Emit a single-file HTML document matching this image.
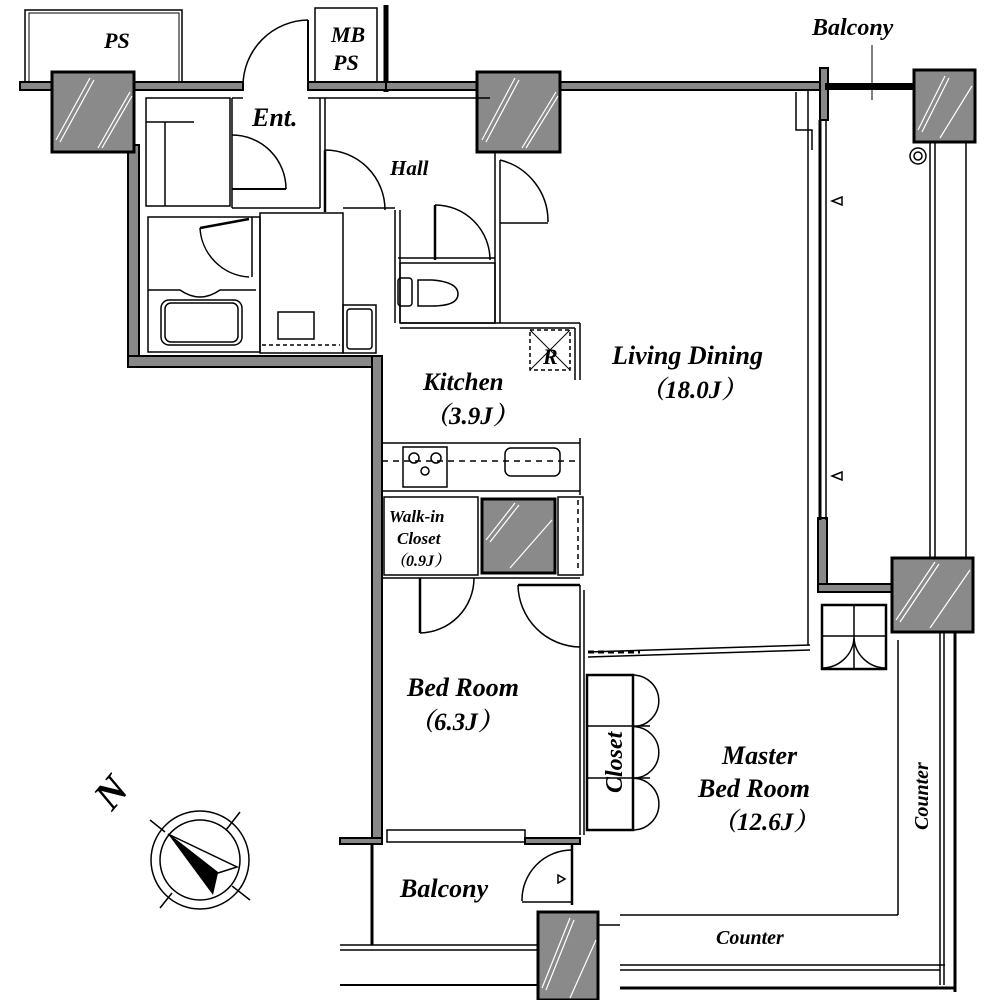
<!DOCTYPE html>
<html><head><style>
html,body{margin:0;padding:0;background:#fff;}
svg{display:block}
text{font-family:"Liberation Serif","Noto Serif CJK SC",serif;font-weight:bold;font-style:italic;fill:#000}
</style></head><body>
<svg width="1000" height="1000" viewBox="0 0 1000 1000" xmlns="http://www.w3.org/2000/svg">
<g fill="none" stroke="#000" stroke-width="1.5">
<!-- PS boxes -->
<rect x="25" y="10" width="157" height="73"/>
<rect x="29" y="13" width="150" height="70" stroke-width="1"/>
<rect x="315" y="8" width="62" height="75"/>
<line x1="386" y1="5" x2="386" y2="92" stroke-width="5"/>
<!-- entry door arc -->
<path d="M308 20 A66 66 0 0 0 243 86" />
<line x1="308" y1="20" x2="308" y2="86" stroke-width="2"/>
</g>
<!-- top walls -->
<g fill="#888" stroke="#000" stroke-width="2">
<rect x="20" y="82" width="223" height="8"/>
<rect x="308" y="82" width="78" height="8"/>
<rect x="386" y="82" width="434" height="8"/>
<rect x="820" y="68" width="8" height="52"/>
<rect x="826" y="84" width="92" height="5" fill="#000"/>
<rect x="128" y="145" width="11" height="222"/>
<rect x="128" y="356" width="254" height="11"/>
<rect x="372" y="356" width="10" height="484"/>
<rect x="818" y="518" width="9" height="72"/>
<rect x="818" y="584" width="78" height="8"/>
<rect x="340" y="838" width="42" height="6"/>
<rect x="525" y="838" width="55" height="6"/>
</g>
<!-- columns -->
<g stroke="#000" stroke-width="3" fill="#8a8a8a">
<rect x="52" y="72" width="82" height="80"/>
<rect x="477" y="72" width="83" height="80"/>
<rect x="914" y="70" width="61" height="72"/>
<rect x="892" y="558" width="81" height="74"/>
<rect x="538" y="912" width="60" height="88"/>
<rect x="482" y="499" width="73" height="74"/>
</g>
<g stroke="#fff" stroke-width="1.2">
<line x1="56" y1="140" x2="90" y2="78"/><line x1="60" y1="142" x2="94" y2="80"/>
<line x1="98" y1="148" x2="130" y2="92"/><line x1="102" y1="148" x2="132" y2="96"/>
<line x1="482" y1="140" x2="515" y2="78"/><line x1="486" y1="142" x2="519" y2="80"/>
<line x1="522" y1="148" x2="556" y2="92"/><line x1="526" y1="148" x2="558" y2="96"/>
<line x1="918" y1="130" x2="945" y2="76"/><line x1="922" y1="132" x2="949" y2="78"/>
<line x1="940" y1="138" x2="972" y2="86"/>
<line x1="896" y1="620" x2="935" y2="562"/><line x1="900" y1="622" x2="939" y2="564"/>
<line x1="930" y1="628" x2="970" y2="570"/>
<line x1="542" y1="988" x2="570" y2="918"/><line x1="546" y1="990" x2="574" y2="920"/>
<line x1="570" y1="998" x2="596" y2="940"/>
<line x1="486" y1="540" x2="515" y2="503"/><line x1="490" y1="542" x2="519" y2="505"/>
<line x1="510" y1="568" x2="552" y2="520"/>
</g>
<g fill="none" stroke="#000" stroke-width="1.5">
<rect x="146" y="98" width="84" height="108"/>
<line x1="146" y1="122" x2="194" y2="122"/><line x1="165" y1="122" x2="165" y2="206"/>
<line x1="232" y1="98" x2="232" y2="208"/>
<line x1="232" y1="208" x2="320" y2="208"/>
<line x1="320" y1="98" x2="320" y2="208"/>
<line x1="325" y1="98" x2="325" y2="208"/>
<line x1="308" y1="98" x2="490" y2="98"/>
<line x1="232" y1="98" x2="243" y2="98"/>
<path d="M232 135 A54 54 0 0 1 286 189"/><line x1="232" y1="189" x2="286" y2="189" stroke-width="2"/>
<rect x="148" y="217" width="112" height="135"/>
<rect x="161" y="300" width="81" height="45" rx="8"/>
<rect x="165" y="303" width="73" height="39" rx="6"/>
<path d="M148 290 L180 290 Q190 297 200 297 Q210 297 220 290 L256 290"/>
<path d="M200 228 A52 52 0 0 0 249 277"/><line x1="200" y1="228" x2="249" y2="219" stroke-width="2.5"/>
<line x1="252" y1="217" x2="252" y2="277"/>
<rect x="260" y="213" width="83" height="140"/>
<rect x="278" y="312" width="36" height="27"/>
<line x1="262" y1="345" x2="340" y2="345" stroke-dasharray="4 3"/>
<rect x="343" y="305" width="33" height="48"/><rect x="347" y="309" width="25" height="40" rx="3"/>
<line x1="343" y1="208" x2="395" y2="208"/>
<path d="M325 150 A60 60 0 0 1 385 210"/><line x1="325" y1="150" x2="325" y2="212" stroke-width="2.5"/>
<line x1="395" y1="210" x2="395" y2="323"/><line x1="400" y1="210" x2="400" y2="323"/>
<line x1="398" y1="258" x2="495" y2="258"/>
<rect x="400" y="263" width="95" height="60"/>
<path d="M418 280 L432 280 Q458 282 458 294 Q458 306 432 306 L418 306 Z"/>
<rect x="398" y="278" width="14" height="28" rx="3"/>
<path d="M435 205 A55 55 0 0 1 490 260"/><line x1="435" y1="205" x2="435" y2="260" stroke-width="2.5"/>
<line x1="495" y1="152" x2="495" y2="323"/><line x1="500" y1="160" x2="500" y2="323"/>
<path d="M500 160 A63 63 0 0 1 548 222"/><line x1="500" y1="223" x2="548" y2="223"/>
<line x1="400" y1="323" x2="580" y2="323"/><line x1="400" y1="328" x2="575" y2="328"/>
<line x1="575" y1="328" x2="575" y2="380"/><line x1="580" y1="323" x2="580" y2="380"/>
<rect x="530" y="330" width="40" height="40" stroke-dasharray="4 3"/>
<line x1="530" y1="330" x2="570" y2="370" stroke-width="1"/><line x1="570" y1="330" x2="530" y2="370" stroke-width="1"/>
<line x1="382" y1="443" x2="580" y2="443"/><line x1="382" y1="491" x2="580" y2="491"/>
<line x1="580" y1="438" x2="580" y2="495"/>
<line x1="382" y1="461" x2="578" y2="461" stroke-dasharray="6 5"/>
<rect x="403" y="447" width="44" height="40"/>
<circle cx="414" cy="458" r="5"/><circle cx="436" cy="458" r="5"/><circle cx="425" cy="471" r="4"/>
<rect x="505" y="448" width="55" height="28" rx="6"/>
<rect x="384" y="497" width="94" height="78"/>
<rect x="558" y="497" width="25" height="78"/>
<line x1="578" y1="500" x2="578" y2="572" stroke-dasharray="5 4"/>
<line x1="382" y1="578" x2="580" y2="578"/>
<path d="M474 578 A55 55 0 0 1 420 633"/><line x1="420" y1="578" x2="420" y2="633" stroke-width="2.5"/>
<path d="M518 585 A63 63 0 0 0 580 647"/><line x1="518" y1="585" x2="580" y2="585" stroke-width="2.5"/>
<line x1="580" y1="585" x2="580" y2="835"/><line x1="584" y1="590" x2="584" y2="835"/>
<line x1="588" y1="652" x2="810" y2="645"/><line x1="588" y1="657" x2="810" y2="650"/>
<line x1="588" y1="652" x2="640" y2="652" stroke-width="3" stroke-dasharray="6 4"/>
<line x1="808" y1="90" x2="808" y2="645"/><line x1="820" y1="120" x2="820" y2="520" stroke-width="3"/>
<line x1="826" y1="120" x2="826" y2="520"/>
<path d="M796 92 L796 130 L812 130 L812 150"/>
<rect x="587" y="675" width="46" height="155" stroke-width="2.5"/>
<line x1="587" y1="726" x2="650" y2="726"/><line x1="587" y1="778" x2="650" y2="778"/>
<path d="M633 675 A25.8 25.8 0 0 1 633 726.6 A25.8 25.8 0 0 1 633 778.2 A25.8 25.8 0 0 1 633 830"/>
<rect x="822" y="605" width="64" height="64" stroke-width="2.5"/>
<line x1="854" y1="605" x2="854" y2="668"/>
<line x1="822" y1="636" x2="886" y2="636"/>
<path d="M822 668 A32 32 0 0 0 854 638 A32 32 0 0 0 886 668"/>
<line x1="898" y1="640" x2="898" y2="915"/>
<line x1="898" y1="915" x2="620" y2="915"/>
<line x1="940" y1="632" x2="940" y2="985"/><line x1="944" y1="632" x2="944" y2="985"/>
<line x1="955" y1="632" x2="955" y2="992" stroke-width="3"/>
<line x1="620" y1="965" x2="945" y2="965"/><line x1="620" y1="970" x2="940" y2="970"/>
<line x1="620" y1="988" x2="955" y2="988" stroke-width="3"/>
<line x1="598" y1="925" x2="620" y2="925"/>
<line x1="930" y1="142" x2="930" y2="558"/><line x1="935" y1="142" x2="935" y2="558"/>
<line x1="966" y1="142" x2="966" y2="558"/>
<circle cx="918" cy="156" r="8"/><circle cx="918" cy="156" r="4"/>
<line x1="872" y1="45" x2="872" y2="100" stroke-width="1"/>
<path d="M842 197 L832 201 L842 205 Z"/><path d="M842 472 L832 476 L842 480 Z"/>
<rect x="387" y="830" width="138" height="12"/>
<line x1="372" y1="845" x2="372" y2="945" stroke-width="3"/>
<line x1="340" y1="945" x2="538" y2="945"/><line x1="340" y1="950" x2="538" y2="950"/>
<line x1="340" y1="985" x2="538" y2="985" stroke-width="2"/>
<line x1="572" y1="845" x2="572" y2="905" stroke-width="2.5"/>
<path d="M572 850 A50 50 0 0 0 522 901"/><line x1="522" y1="902" x2="572" y2="902"/>
<path d="M558 875 L565 879 L558 883 Z"/>
<circle cx="200" cy="860" r="49"/><circle cx="200" cy="860" r="40"/>
<line x1="150" y1="820" x2="165" y2="832"/><line x1="240" y1="812" x2="226" y2="830"/>
<line x1="160" y1="908" x2="172" y2="893"/><line x1="250" y1="900" x2="232" y2="886"/>
<path d="M168 834 L237 867 L218 873 Z"/>
</g>
<path d="M168 834 L218 873 L213 895 Z" fill="#000"/>
<text x="104" y="48" font-size="22">PS</text>
<text x="331" y="42" font-size="22">MB</text>
<text x="333" y="70" font-size="22">PS</text>
<text x="252" y="126" font-size="26">Ent.</text>
<text x="390" y="175" font-size="21">Hall</text>
<text x="812" y="35" font-size="24">Balcony</text>
<text x="543" y="364" font-size="22">R</text>
<text x="423" y="390" font-size="25">Kitchen</text>
<text x="424" y="424" font-size="25">（3.9J）</text>
<text x="612" y="364" font-size="26">Living Dining</text>
<text x="640" y="398" font-size="25">（18.0J）</text>
<text x="389" y="522" font-size="17">Walk-in</text>
<text x="397" y="544" font-size="17">Closet</text>
<text x="390" y="566" font-size="16">（0.9J）</text>
<text x="407" y="696" font-size="26">Bed Room</text>
<text x="409" y="730" font-size="25">（6.3J）</text>
<text x="722" y="764" font-size="26">Master</text>
<text x="698" y="797" font-size="26">Bed Room</text>
<text x="712" y="830" font-size="25">（12.6J）</text>
<text x="400" y="897" font-size="26">Balcony</text>
<text x="716" y="944" font-size="20">Counter</text>
<text transform="translate(928,830) rotate(-90)" font-size="20">Counter</text>
<text transform="translate(622,793) rotate(-90)" font-size="24">Closet</text>
<text transform="translate(112,812) rotate(-50)" font-size="40" font-style="normal">N</text>
</svg>
</body></html>
